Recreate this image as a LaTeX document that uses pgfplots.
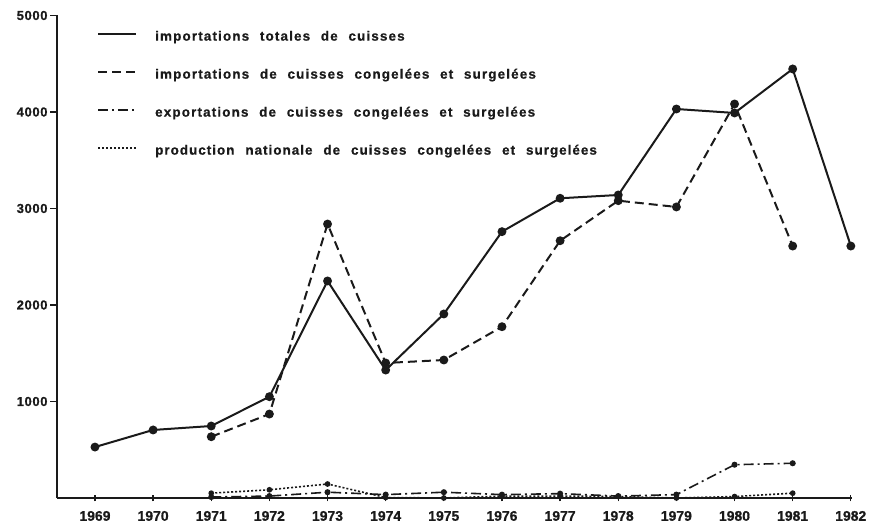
\documentclass[border=0pt]{standalone}
\usepackage{fontspec}
\setmainfont{Liberation Sans}
\newfontfamily\legfont{Liberation Sans Bold}[LetterSpace=8.5,WordSpace=2.2,FakeBold=0.8]
\newfontfamily\legfontb{Liberation Sans Bold}[LetterSpace=7.5,WordSpace=2.3,FakeBold=0.8]
\newfontfamily\yfont{Liberation Sans Bold}[LetterSpace=5,FakeBold=0.8]
\newfontfamily\xfont{Liberation Sans Bold}[FakeBold=0.8]
\usepackage{pgfplots}
\pgfplotsset{compat=1.18}
\definecolor{ink}{HTML}{1A1A1A}
\begin{document}
\begin{tikzpicture}
\begin{axis}[name=a, scale only axis, width=795bp, height=482.5bp,
  xmin=1968.347, xmax=1982.02, ymin=0, ymax=5000,
  axis lines*=left,
  axis line style={ink, line width=1.8bp},
  xtick={1969,...,1982}, ytick={1000,2000,3000,4000,5000},
  /pgf/number format/.cd, assume math mode=true, 1000 sep={}, /pgfplots/.cd,
  xtick align=center, ytick align=outside,
  major tick length=7bp,
  x tick style={ink, line width=1.4bp},
  y tick style={ink, line width=1.4bp},
  xticklabel style={font=\xfont\fontsize{14}{14}\selectfont, text=ink, yshift=-6bp},
  yticklabel style={font=\yfont\fontsize{13}{13}\selectfont, text=ink, xshift=1bp},
  legend style={at={(0.0503,0.968)}, anchor=north west, draw=none, fill=none,
    inner sep=0pt, row sep=26bp,
    font=\legfont\fontsize{13.5}{15}\selectfont, text=ink,
    nodes={inner sep=0pt, text height=9.5bp, text depth=2.5bp},
    /tikz/every odd column/.append style={column sep=18bp}},
  legend cell align=left,
  legend image code/.code={\draw[#1] (0bp,3bp) -- (38bp,3bp);},
]
\addplot[ink, line width=2bp, mark=*, mark size=3.4bp] coordinates {
(1969,528)(1970,705)(1971,746)(1972,1050)(1973,2249)(1974,1326)(1975,1907)
(1976,2760)(1977,3106)(1978,3140)(1979,4031)(1980,3990)(1981,4446)(1982,2611)};
\addlegendentry{importations totales de cuisses}
\addplot[ink, line width=2bp, dash pattern=on 9bp off 5bp, mark=*, mark size=3.4bp, mark options={solid}] coordinates {
(1971,635)(1972,870)(1973,2839)(1974,1399)(1975,1430)(1976,1775)(1977,2666)
(1978,3081)(1979,3016)(1980,4083)(1981,2611)};
\addlegendentry{importations de cuisses congelées et surgelées}
\addplot[ink, line width=1.6bp, dash pattern=on 10bp off 4bp on 2bp off 4bp, mark=*, mark size=2.2bp, mark options={solid}] coordinates {
(1971,10)(1972,20)(1973,60)(1974,35)(1975,60)(1976,35)(1977,45)(1978,20)
(1979,35)(1980,345)(1981,360)};
\addlegendentry{exportations de cuisses congelées et surgelées}
\addplot[ink, line width=1.6bp, dash pattern=on 2bp off 2bp, mark=*, mark size=2bp, mark options={solid}] coordinates {
(1971,50)(1972,85)(1973,145)(1974,5)(1975,0)(1976,20)(1977,20)(1978,15)
(1979,0)(1980,15)(1981,50)};
\addlegendentry{\legfontb production nationale de cuisses congelées et surgelées}
\end{axis}
\pgfresetboundingbox
\path ([shift={(-57bp,-29bp)}]a.south west) rectangle ([shift={(18bp,15.5bp)}]a.north east);
\end{tikzpicture}
\end{document}
